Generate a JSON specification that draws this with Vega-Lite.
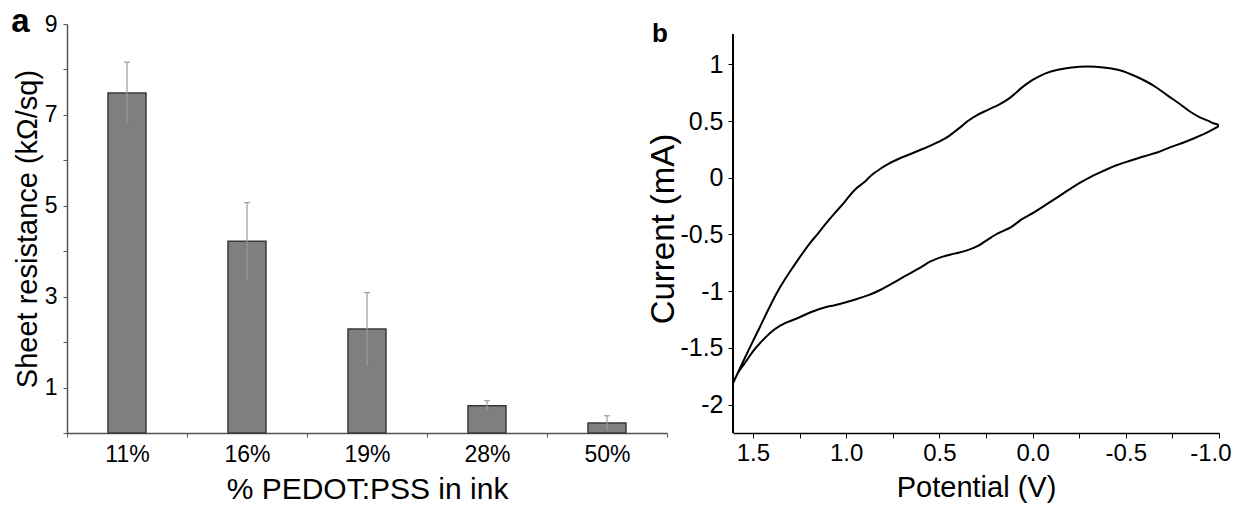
{
  "$schema": "https://vega.github.io/schema/vega-lite/v6.json",
  "background": "white",
  "padding": {"left": 11, "top": 6, "right": 5, "bottom": 0},
  "spacing": 66,
  "bounds": "flush",
  "config": {
    "view": {"stroke": null},
    "font": "Liberation Sans",
    "axis": {"labelColor": "black", "titleColor": "black", "labelFont": "Liberation Sans", "titleFont": "Liberation Sans", "titleFontWeight": "normal", "grid": false},
    "title": {"font": "Liberation Sans", "fontWeight": "bold", "color": "black"}
  },
  "hconcat": [
    {
      "width": 600,
      "height": 409,
      "title": {"text": "a", "fontSize": 33, "anchor": "start", "frame": "bounds", "dy": 30, "dx": -2},
      "data": {"values": [
        {"pct": "11%", "value": 7.48, "lo": 6.80, "hi": 8.16},
        {"pct": "16%", "value": 4.22, "lo": 3.37, "hi": 5.07},
        {"pct": "19%", "value": 2.29, "lo": 1.48, "hi": 3.09},
        {"pct": "28%", "value": 0.60, "lo": 0.48, "hi": 0.71},
        {"pct": "50%", "value": 0.22, "lo": 0.06, "hi": 0.38}
      ]},
      "encoding": {
        "x": {"field": "pct", "type": "nominal", "sort": null,
          "scale": {"paddingInner": 0, "paddingOuter": 0},
          "axis": {"title": "% PEDOT:PSS in ink", "labelAngle": 0, "tickBand": "extent", "tickSize": 4, "labelFontSize": 23, "titleFontSize": 30, "labelPadding": 6, "titlePadding": 8, "domainColor": "#555555", "tickColor": "#555555", "domainWidth": 1.5}}
      },
      "layer": [
        {
          "mark": {"type": "bar", "size": 38, "color": "#7f7f7f", "stroke": "#3a3a3a", "strokeWidth": 1.5},
          "encoding": {
            "y": {"field": "value", "type": "quantitative", "title": "Sheet resistance (kΩ/sq)",
              "scale": {"domain": [0, 9], "nice": false},
              "axis": {"values": [0,1,2,3,4,5,6,7,8,9], "labelExpr": "datum.value % 2 == 1 ? datum.label : ''", "tickSize": 4, "labelFontSize": 23, "titleFontSize": 29, "labelPadding": 6, "titlePadding": 2, "domainColor": "#555555", "tickColor": "#555555", "domainWidth": 1.5}}
          }
        },
        {
          "mark": {"type": "errorbar", "color": "#999999", "thickness": 1.2, "ticks": {"size": 6, "color": "#777777"}},
          "encoding": {
            "y": {"field": "lo", "type": "quantitative", "title": "Sheet resistance (kΩ/sq)"},
            "y2": {"field": "hi"}
          }
        }
      ]
    },
    {
      "width": 486,
      "height": 409,
      "title": {"text": "b", "fontSize": 26, "anchor": "start", "frame": "bounds", "dy": 27, "dx": 4},
      "data": {"values": [
        {"o": 1, "V": 1.607, "I": -1.813},
        {"o": 2, "V": 1.57, "I": -1.68},
        {"o": 3, "V": 1.535, "I": -1.56},
        {"o": 4, "V": 1.50, "I": -1.44},
        {"o": 5, "V": 1.464, "I": -1.32},
        {"o": 6, "V": 1.42, "I": -1.17},
        {"o": 7, "V": 1.375, "I": -1.025},
        {"o": 8, "V": 1.33, "I": -0.90},
        {"o": 9, "V": 1.286, "I": -0.79},
        {"o": 10, "V": 1.24, "I": -0.68},
        {"o": 11, "V": 1.196, "I": -0.58},
        {"o": 12, "V": 1.15, "I": -0.49},
        {"o": 13, "V": 1.107, "I": -0.40},
        {"o": 14, "V": 1.06, "I": -0.31},
        {"o": 15, "V": 1.017, "I": -0.23},
        {"o": 16, "V": 0.98, "I": -0.155},
        {"o": 17, "V": 0.946, "I": -0.095},
        {"o": 18, "V": 0.90, "I": -0.035},
        {"o": 19, "V": 0.866, "I": 0.02},
        {"o": 20, "V": 0.82, "I": 0.075},
        {"o": 21, "V": 0.776, "I": 0.12},
        {"o": 22, "V": 0.72, "I": 0.165},
        {"o": 23, "V": 0.651, "I": 0.211},
        {"o": 24, "V": 0.58, "I": 0.26},
        {"o": 25, "V": 0.508, "I": 0.313},
        {"o": 26, "V": 0.46, "I": 0.355},
        {"o": 27, "V": 0.419, "I": 0.405},
        {"o": 28, "V": 0.38, "I": 0.455},
        {"o": 29, "V": 0.347, "I": 0.50},
        {"o": 30, "V": 0.30, "I": 0.55},
        {"o": 31, "V": 0.24, "I": 0.598},
        {"o": 32, "V": 0.18, "I": 0.645},
        {"o": 33, "V": 0.133, "I": 0.69},
        {"o": 34, "V": 0.095, "I": 0.74},
        {"o": 35, "V": 0.061, "I": 0.79},
        {"o": 36, "V": 0.02, "I": 0.84},
        {"o": 37, "V": -0.01, "I": 0.871},
        {"o": 38, "V": -0.07, "I": 0.92},
        {"o": 39, "V": -0.135, "I": 0.951},
        {"o": 40, "V": -0.21, "I": 0.972},
        {"o": 41, "V": -0.296, "I": 0.980},
        {"o": 42, "V": -0.38, "I": 0.972},
        {"o": 43, "V": -0.457, "I": 0.951},
        {"o": 44, "V": -0.53, "I": 0.91},
        {"o": 45, "V": -0.60, "I": 0.857},
        {"o": 46, "V": -0.66, "I": 0.80},
        {"o": 47, "V": -0.725, "I": 0.724},
        {"o": 48, "V": -0.79, "I": 0.65},
        {"o": 49, "V": -0.85, "I": 0.577},
        {"o": 50, "V": -0.90, "I": 0.53},
        {"o": 51, "V": -0.94, "I": 0.504},
        {"o": 52, "V": -0.97, "I": 0.48},
        {"o": 53, "V": -0.999, "I": 0.46},
        {"o": 54, "V": -0.96, "I": 0.42},
        {"o": 55, "V": -0.921, "I": 0.387},
        {"o": 56, "V": -0.87, "I": 0.35},
        {"o": 57, "V": -0.814, "I": 0.313},
        {"o": 58, "V": -0.74, "I": 0.27},
        {"o": 59, "V": -0.672, "I": 0.225},
        {"o": 60, "V": -0.60, "I": 0.19},
        {"o": 61, "V": -0.528, "I": 0.152},
        {"o": 62, "V": -0.45, "I": 0.11},
        {"o": 63, "V": -0.385, "I": 0.064},
        {"o": 64, "V": -0.32, "I": 0.015},
        {"o": 65, "V": -0.26, "I": -0.039},
        {"o": 66, "V": -0.20, "I": -0.10},
        {"o": 67, "V": -0.135, "I": -0.171},
        {"o": 68, "V": -0.07, "I": -0.24},
        {"o": 69, "V": -0.01, "I": -0.303},
        {"o": 70, "V": 0.061, "I": -0.37},
        {"o": 71, "V": 0.115, "I": -0.435},
        {"o": 72, "V": 0.186, "I": -0.49},
        {"o": 73, "V": 0.222, "I": -0.525},
        {"o": 74, "V": 0.293, "I": -0.60},
        {"o": 75, "V": 0.36, "I": -0.645},
        {"o": 76, "V": 0.419, "I": -0.669},
        {"o": 77, "V": 0.49, "I": -0.70},
        {"o": 78, "V": 0.55, "I": -0.74},
        {"o": 79, "V": 0.598, "I": -0.787},
        {"o": 80, "V": 0.687, "I": -0.87},
        {"o": 81, "V": 0.75, "I": -0.93},
        {"o": 82, "V": 0.812, "I": -0.985},
        {"o": 83, "V": 0.88, "I": -1.035},
        {"o": 84, "V": 0.955, "I": -1.075},
        {"o": 85, "V": 1.062, "I": -1.124},
        {"o": 86, "V": 1.107, "I": -1.139},
        {"o": 87, "V": 1.187, "I": -1.183},
        {"o": 88, "V": 1.25, "I": -1.23},
        {"o": 89, "V": 1.312, "I": -1.271},
        {"o": 90, "V": 1.36, "I": -1.31},
        {"o": 91, "V": 1.402, "I": -1.359},
        {"o": 92, "V": 1.464, "I": -1.461},
        {"o": 93, "V": 1.50, "I": -1.53},
        {"o": 94, "V": 1.545, "I": -1.637},
        {"o": 95, "V": 1.58, "I": -1.72},
        {"o": 96, "V": 1.607, "I": -1.813}
      ]},
      "layer": [
        {
          "mark": {"type": "line", "color": "black", "strokeWidth": 2, "clip": true, "interpolate": "catmull-rom"},
          "encoding": {
            "x": {"field": "V", "type": "quantitative",
              "scale": {"domain": [-1.0, 1.607], "reverse": true, "nice": false, "zero": false},
              "axis": {"title": "Potential (V)", "values": [-1, -0.75, -0.5, -0.25, 0, 0.25, 0.5, 0.75, 1, 1.25, 1.5], "labelExpr": "abs(datum.value*2 - round(datum.value*2)) < 0.001 ? replace(format(datum.value, '.1f'), '−', '-') : ''", "tickSize": 5, "labelFontSize": 24, "titleFontSize": 29, "labelPadding": 3, "titlePadding": 8, "domainColor": "black", "tickColor": "black", "domainWidth": 1.5, "labelFlush": true, "labelFlushOffset": 12, "labelOverlap": false}},
            "y": {"field": "I", "type": "quantitative",
              "scale": {"domain": [-2.25, 1.355], "nice": false, "zero": false},
              "axis": {"title": "Current (mA)", "values": [-2, -1.75, -1.5, -1.25, -1, -0.75, -0.5, -0.25, 0, 0.25, 0.5, 0.75, 1], "labelExpr": "abs(datum.value*2 - round(datum.value*2)) < 0.001 ? replace(format(datum.value, '~g'), '−', '-') : ''", "tickSize": 5, "labelFontSize": 25, "titleFontSize": 33, "labelPadding": 5, "titlePadding": -1, "domain": false, "tickColor": "black", "labelOverlap": false}},
            "order": {"field": "o", "type": "quantitative"}
          }
        },
        {
          "mark": {"type": "rule", "color": "black", "strokeWidth": 1.5},
          "encoding": {
            "x": {"datum": 1.607},
            "y": {"datum": -2.25},
            "y2": {"datum": 1.264}
          }
        }
      ]
    }
  ]
}
